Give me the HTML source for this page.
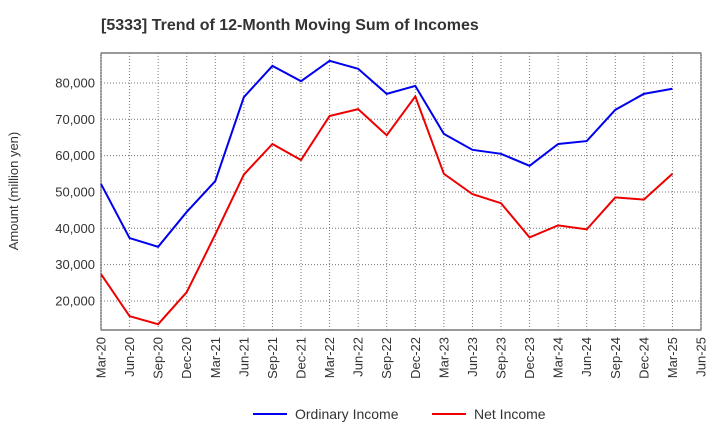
<!DOCTYPE html>
<html><head><meta charset="utf-8"><style>
body{margin:0;background:#fff;font-family:"Liberation Sans",sans-serif;}
svg text{font-family:"Liberation Sans",sans-serif;}
</style></head><body>
<svg id="chart" width="720" height="440" viewBox="0 0 720 440">
<text x="101" y="30" font-size="16" font-weight="bold" fill="#333">[5333]  Trend of 12-Month Moving Sum of Incomes</text>
<g id="grid"></g><g id="axes"></g><g id="series"></g>
<text transform="translate(18,191) rotate(-90)" text-anchor="middle" font-size="13" fill="#333">Amount (million yen)</text>
<g>
<line x1="253" y1="414" x2="287" y2="414" stroke="#0000ee" stroke-width="2"/>
<text x="295" y="419" font-size="14" fill="#333">Ordinary Income</text>
<line x1="432" y1="414" x2="466" y2="414" stroke="#ee0000" stroke-width="2"/>
<text x="474" y="419" font-size="14" fill="#333">Net Income</text>
</g>
</svg>
<script>
const categories=["Mar-20","Jun-20","Sep-20","Dec-20","Mar-21","Jun-21","Sep-21","Dec-21","Mar-22","Jun-22","Sep-22","Dec-22","Mar-23","Jun-23","Sep-23","Dec-23","Mar-24","Jun-24","Sep-24","Dec-24","Mar-25","Jun-25"];
const ordinaryIncome=[52200,37300,34900,44500,53000,76100,84700,80500,86100,83900,77000,79200,66000,61600,60500,57200,63200,64000,72600,77000,78400];
const netIncome=[27400,15800,13600,22400,38300,54800,63200,58800,70900,72800,65600,76300,55000,49400,46900,37500,40800,39700,48500,47900,55000];
const yTicks=[20000,30000,40000,50000,60000,70000,80000];
const L=101,R=701,T=53,B=330,yMin=12000,yMax=88250;
const ns="http://www.w3.org/2000/svg";
const xS=i=>L+i*(R-L)/(categories.length-1);
const yS=v=>B-(v-yMin)/(yMax-yMin)*(B-T);
function mk(t,a,p){const e=document.createElementNS(ns,t);for(const k in a)e.setAttribute(k,a[k]);p.appendChild(e);return e;}
const grid=document.getElementById('grid'),axes=document.getElementById('axes'),series=document.getElementById('series');
mk('rect',{x:L,y:T,width:R-L,height:B-T,fill:'#fff',stroke:'#333'},grid);
categories.forEach((c,i)=>{const x=xS(i);
const g=mk('line',{x1:x,y1:T,x2:x,y2:B,stroke:'#777','stroke-dasharray':'1,2'},grid);


const t=mk('text',{x:0,y:0,'font-size':13,fill:'#333','text-anchor':'end',transform:`translate(${x+4.5},${B+7}) rotate(-90)`},axes);
t.textContent=c;

});
yTicks.forEach(v=>{const y=yS(v);
const g=mk('line',{x1:L,y1:y,x2:R,y2:y,stroke:'#777','stroke-dasharray':'1,2'},grid);


const t=mk('text',{x:L-6,y:y+4.5,'font-size':13,fill:'#333','text-anchor':'end'},axes);
t.textContent=v.toLocaleString('en-US');

});
function line(d,c,n){const p=mk('polyline',{points:d.map((v,i)=>xS(i)+','+yS(v)).join(' '),fill:'none',stroke:c,'stroke-width':2},series);

}
line(ordinaryIncome,'#0000ee','ordinary-income-line');
line(netIncome,'#ee0000','net-income-line');
</script>
</body></html>
